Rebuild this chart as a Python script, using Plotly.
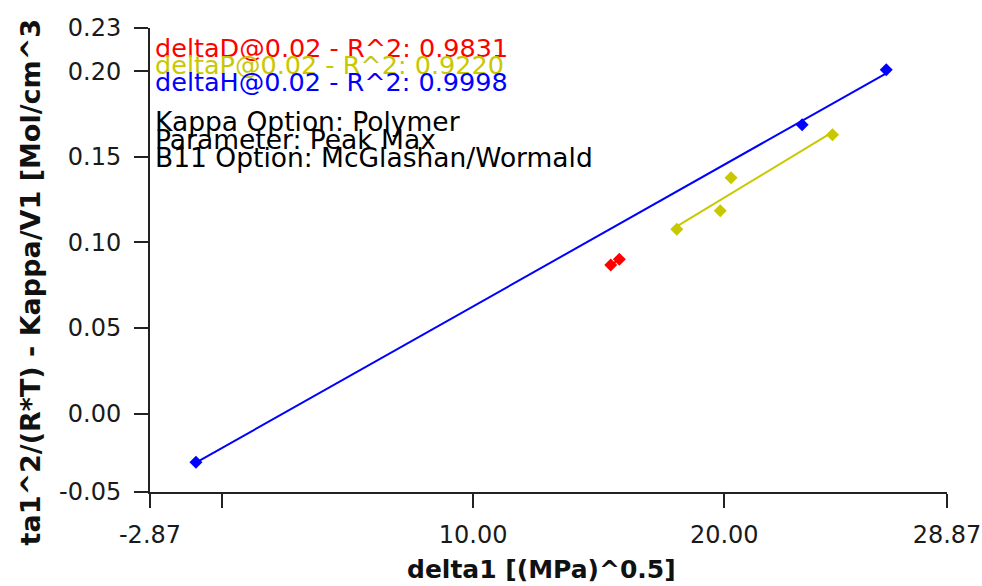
import numpy as np
import plotly.graph_objects as go

# ---- data ----
deltaD_x = [15.48, 15.82]
deltaD_y = [0.0868, 0.0901]
deltaP_x = [18.11, 19.84, 20.27, 24.31]
deltaP_y = [0.1077, 0.1185, 0.1378, 0.1628]
deltaH_x = [-1.04, 23.10, 26.45]
deltaH_y = [-0.0284, 0.1687, 0.2008]

series_names = ["deltaD@0.02 - R^2: 0.9831",
                "deltaP@0.02 - R^2: 0.9220",
                "deltaH@0.02 - R^2: 0.9998"]
series_colors = ["#ff0000", "#c8c800", "#0000ff"]
info_lines = ["Kappa Option: Polymer",
              "Parameter: Peak Max",
              "B11 Option: McGlashan/Wormald"]

x_range = [-2.87, 28.87]
y_range = [-0.0458, 0.2252]
x_tickvals = [-2.87, 0, 10, 20, 28.87]
x_ticktext = ["-2.87", "", "10.00", "20.00", "28.87"]
y_tickvals = [-0.0458, 0.0, 0.05, 0.10, 0.15, 0.20, 0.2252]
y_ticktext = ["-0.05", "0.00", "0.05", "0.10", "0.15", "0.20", "0.23"]

x_title = "delta1 [(MPa)^0.5]"
y_title = "ta1^2/(R*T) - Kappa/V1 [Mol/cm^3"

# ---- layout geometry ----
W, H = 982, 586
ML, MR, MT, MB = 150, 35, 28, 94
PW, PH = W - ML - MR, H - MT - MB


def px_x(p):
    return (p - ML) / PW


def px_y(p):
    return (H - MB - p) / PH


FONT = "DejaVu Sans"

fig = go.Figure()
all_data = [(deltaD_x, deltaD_y), (deltaP_x, deltaP_y), (deltaH_x, deltaH_y)]

for (xs, ys), col in zip(all_data, series_colors):
    coef = np.polyfit(xs, ys, 1)
    lx = [min(xs), max(xs)]
    ly = list(np.polyval(coef, lx))
    fig.add_trace(go.Scatter(x=lx, y=ly, mode="lines",
                             line=dict(color=col, width=2),
                             showlegend=False, hoverinfo="skip"))
for (xs, ys), col in zip(all_data, series_colors):
    fig.add_trace(go.Scatter(x=xs, y=ys, mode="markers",
                             marker=dict(symbol="diamond", size=10, color=col,
                                         line=dict(width=0)),
                             showlegend=False))

annotations = []
color_mid = [48, 65, 82]
for txt, col, m in zip(series_names, series_colors, color_mid):
    annotations.append(dict(x=px_x(153), y=px_y(m), xref="paper", yref="paper",
                            xanchor="left", yanchor="middle", showarrow=False,
                            text=txt, font=dict(family=FONT, size=25.5, color=col)))
info_mid = [121, 139, 157]
for txt, m in zip(info_lines, info_mid):
    annotations.append(dict(x=px_x(153), y=px_y(m), xref="paper", yref="paper",
                            xanchor="left", yanchor="middle", showarrow=False,
                            text=txt, font=dict(family=FONT, size=26.5, color="#000000")))

annotations.append(dict(x=px_x(541), y=px_y(569), xref="paper", yref="paper",
                        xanchor="center", yanchor="middle", showarrow=False,
                        text=x_title,
                        font=dict(family=FONT, size=25, color="#111111", weight="bold")))
annotations.append(dict(x=px_x(30), y=px_y(548), xref="paper", yref="paper",
                        xanchor="center", yanchor="bottom", showarrow=False,
                        textangle=-90, text=y_title,
                        font=dict(family=FONT, size=27, color="#111111", weight="bold")))

fig.update_layout(
    template="none",
    width=W, height=H,
    margin=dict(l=ML, r=MR, t=MT, b=MB, autoexpand=False),
    paper_bgcolor="white", plot_bgcolor="white",
    annotations=annotations,
    xaxis=dict(range=x_range, tickvals=x_tickvals, ticktext=x_ticktext,
               automargin=False,
               showgrid=False, zeroline=False, showline=True, linewidth=2,
               linecolor="#222222", ticks="outside", ticklen=14, tickwidth=2,
               tickcolor="#222222", ticklabelstandoff=6,
               tickfont=dict(family=FONT, size=24, color="#1a1a1a")),
    yaxis=dict(range=y_range, tickvals=y_tickvals, ticktext=y_ticktext,
               automargin=False,
               showgrid=False, zeroline=False, showline=True, linewidth=2,
               linecolor="#222222", ticks="outside", ticklen=14, tickwidth=2,
               tickcolor="#222222", ticklabelstandoff=8,
               tickfont=dict(family=FONT, size=24, color="#1a1a1a")),
)

fig.write_html("out.html")
